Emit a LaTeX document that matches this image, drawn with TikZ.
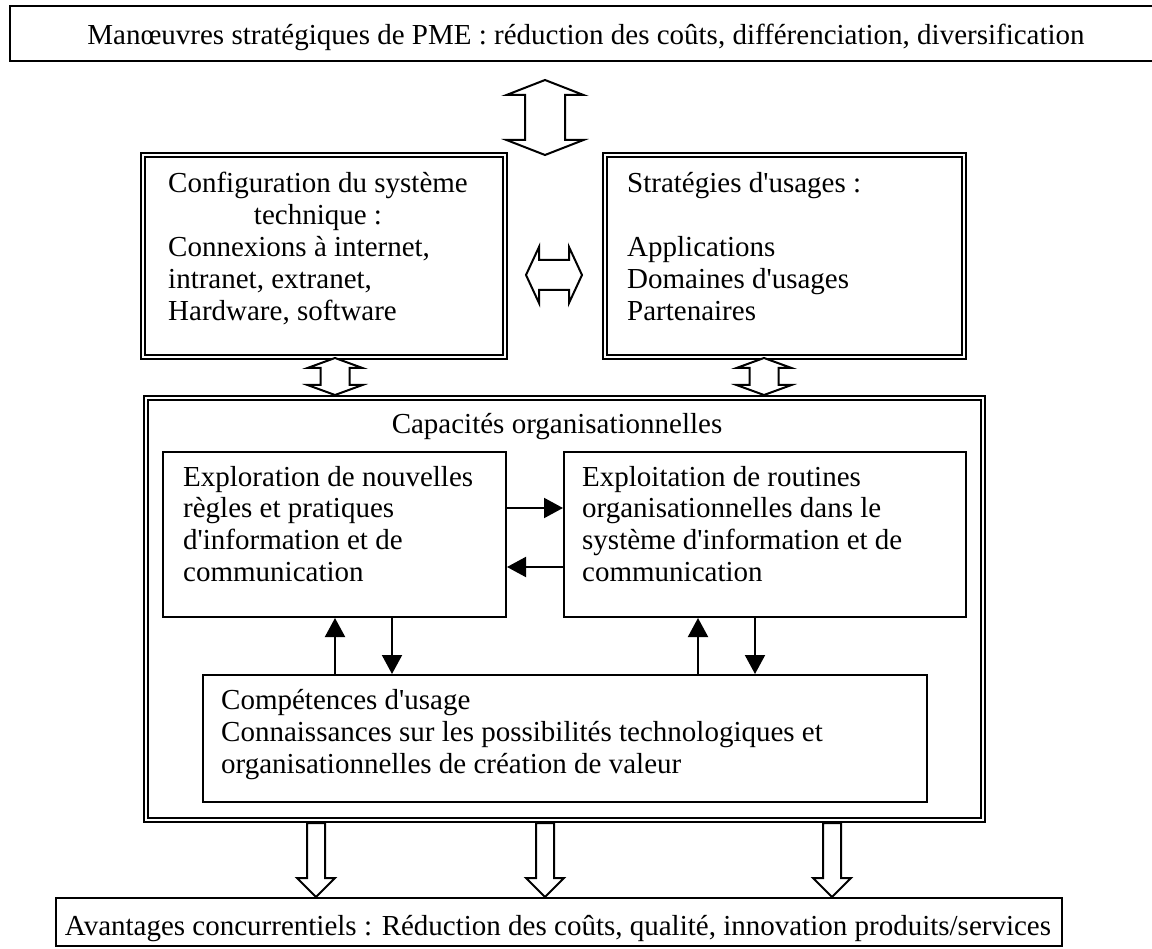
\documentclass[tikz,border=0pt]{standalone}
\usepackage{fontspec}
\setmainfont{Liberation Serif}[Ligatures=TeXOff]
\usetikzlibrary{arrows.meta}
% vertical block arrow with two heads: x, y top, y bottom, half shaft, half head, head length
\newcommand{\VDArrow}[6]{\draw[block] (#1,#2) -- (#1+#5,#2+#6) -- (#1+#4,#2+#6) -- (#1+#4,#3-#6) -- (#1+#5,#3-#6) -- (#1,#3) -- (#1-#5,#3-#6) -- (#1-#4,#3-#6) -- (#1-#4,#2+#6) -- (#1-#5,#2+#6) -- cycle;}
% horizontal block arrow with two heads: y, x left, x right, half shaft, half head, head length
\newcommand{\HDArrow}[6]{\draw[block] (#2,#1) -- (#2+#6,#1-#5) -- (#2+#6,#1-#4) -- (#3-#6,#1-#4) -- (#3-#6,#1-#5) -- (#3,#1) -- (#3-#6,#1+#5) -- (#3-#6,#1+#4) -- (#2+#6,#1+#4) -- (#2+#6,#1+#5) -- cycle;}
% downward block arrow: x, y top, y tip, half shaft, half head, head length
\newcommand{\DArrow}[6]{\draw[block] (#1-#4,#2) -- (#1+#4,#2) -- (#1+#4,#3-#6) -- (#1+#5,#3-#6) -- (#1,#3) -- (#1-#5,#3-#6) -- (#1-#4,#3-#6) -- cycle;}
\begin{document}
\begin{tikzpicture}[x=1pt,y=-1pt,
  txt/.style={inner sep=0pt, font=\fontsize{29}{32}\selectfont},
  plainbox/.style={draw, line width=2pt, inner sep=0pt},
  dblbox/.style={draw, line width=1.8pt, double, double distance=2.2pt, inner sep=0pt},
  block/.style={draw, line width=2pt, fill=white, line join=miter},
  link/.style={line width=2pt, -{Triangle[length=19pt,width=20pt]}}]
\useasboundingbox (0,0) rectangle (1152,949);

% frames
\node[plainbox, minimum width=1160pt, minimum height=55pt] (strat) at (590,33.5) {};
\node[dblbox, minimum width=362pt, minimum height=202pt] (cfg) at (324,256) {};
\node[dblbox, minimum width=359pt, minimum height=202pt] (usage) at (784.5,256) {};
\node[dblbox, minimum width=837pt, minimum height=422pt] (cap) at (564.5,609) {};
\node[plainbox, minimum width=343pt, minimum height=165pt] (explo) at (334.5,534.5) {};
\node[plainbox, minimum width=402pt, minimum height=165pt] (exploit) at (765,534.5) {};
\node[plainbox, minimum width=724pt, minimum height=127pt] (comp) at (565,738.5) {};
\node[plainbox, minimum width=1006pt, minimum height=48pt] (avant) at (559,922) {};

% texts
\node[txt, anchor=base] (tstrat) at (586,45) {Manœuvres stratégiques de PME : réduction des coûts, différenciation, diversification};
\node[txt, anchor=base west] (tcfg) at (168,193) {\begin{tabular}[t]{@{}l@{}}Configuration du système\\ \multicolumn{1}{c}{technique :}\\ Connexions à internet,\\ intranet, extranet,\\ Hardware, software\end{tabular}};
\node[txt, anchor=base west] (tusage) at (627,193) {\begin{tabular}[t]{@{}l@{}}Stratégies d'usages :\\ \\ Applications\\ Domaines d'usages\\ Partenaires\end{tabular}};
\node[txt, anchor=base] (tcap) at (557,434) {Capacités organisationnelles};
\node[txt, anchor=base west] (texplo) at (183,486) {\begin{tabular}[t]{@{}l@{}}Exploration de nouvelles\\ règles et pratiques\\ d'information et de\\ communication\end{tabular}};
\node[txt, anchor=base west] (texploit) at (582,486) {\begin{tabular}[t]{@{}l@{}}Exploitation de routines\\ organisationnelles dans le\\ système d'information et de\\ communication\end{tabular}};
\node[txt, anchor=base west] (tcomp) at (221,709) {\begin{tabular}[t]{@{}l@{}}Compétences d'usage\\ Connaissances sur les possibilités technologiques et\\ organisationnelles de création de valeur\end{tabular}};
\node[txt, anchor=base] (tavant) at (558,935) {Avantages concurrentiels : Réduction des coûts, qualité, innovation produits/services};

% block arrows
\VDArrow{545}{80}{155}{20}{38.5}{15}
\HDArrow{275}{526}{582}{15}{28}{13}
\VDArrow{335}{358}{395}{14.5}{27.5}{10}
\VDArrow{764}{358}{395}{14.5}{27.5}{10}
\DArrow{316}{823}{897}{9}{19}{19}
\DArrow{545}{823}{897}{9}{19}{19}
\DArrow{832}{823}{897}{9}{19}{19}

% thin arrows between the inner boxes
\coordinate (xa) at (335,0);
\coordinate (xb) at (392,0);
\coordinate (xc) at (698,0);
\coordinate (xd) at (755,0);
\coordinate (ya) at (0,508);
\coordinate (yb) at (0,567);
\draw[link] (comp.north -| xa) -- (explo.south -| xa);
\draw[link] (explo.south -| xb) -- (comp.north -| xb);
\draw[link] (comp.north -| xc) -- (exploit.south -| xc);
\draw[link] (exploit.south -| xd) -- (comp.north -| xd);
\draw[link] (explo.east |- ya) -- (exploit.west |- ya);
\draw[link] (exploit.west |- yb) -- (explo.east |- yb);
\end{tikzpicture}
\end{document}
